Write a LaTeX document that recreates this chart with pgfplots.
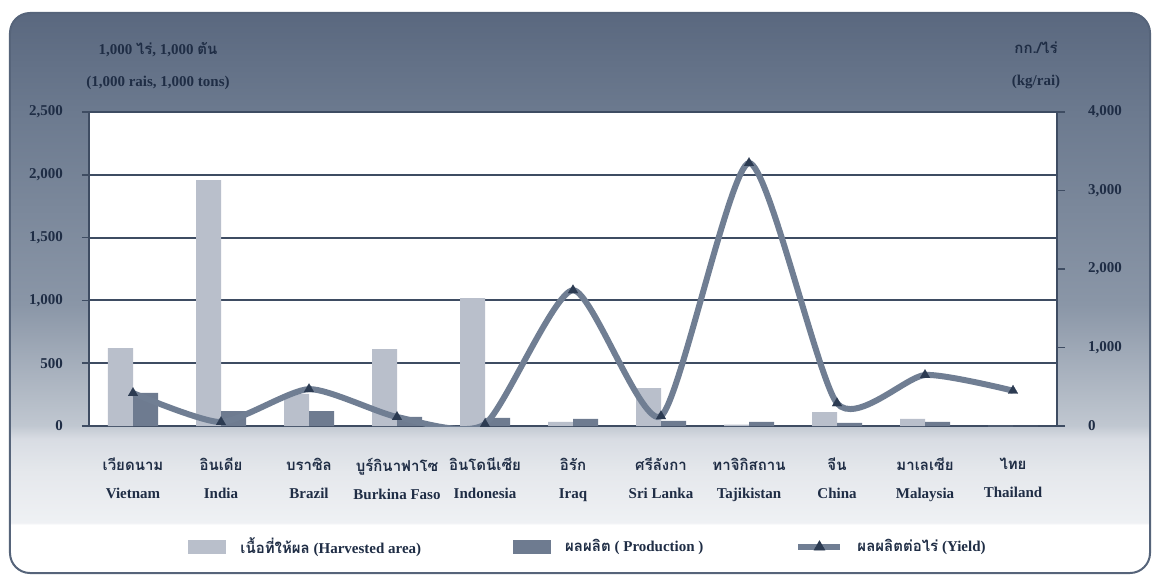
\documentclass[border=0pt]{standalone}
\usepackage{pgfplots}
\pgfplotsset{compat=1.18}
\usepackage{fontspec}
\setmainfont{Liberation Serif}
\newfontfamily\thaifont[Script=Thai]{Loma}
\definecolor{navy}{HTML}{1F2D45}
\definecolor{harv}{HTML}{B9BFCB}
\definecolor{prod}{HTML}{6E7B90}
\definecolor{yld}{HTML}{707E93}
\definecolor{mk}{HTML}{2C3B52}
\definecolor{gridc}{HTML}{3E4C62}
\definecolor{bgA}{HTML}{EFF1F4}
\definecolor{bgB}{HTML}{E5E8EC}
\definecolor{bgC}{HTML}{D8DCE3}
\definecolor{bgD}{HTML}{C0C7D0}
\definecolor{bgE}{HTML}{8A96A7}
\definecolor{bgF}{HTML}{6C7A8F}
\definecolor{bgG}{HTML}{5A687F}
\definecolor{frameC}{HTML}{56647A}
\pgfdeclareverticalshading{bgshade}{100bp}{%
 color(0bp)=(white);
 color(25bp)=(white);
 color(29.3bp)=(white);
 color(29.5bp)=(bgA);
 color(34bp)=(bgB);
 color(37bp)=(bgC);
 color(38.2bp)=(bgD);
 color(49bp)=(bgE);
 color(66bp)=(bgF);
 color(75bp)=(bgG);
 color(100bp)=(bgG)}
\newcommand\tl[2]{{\thaifont #1}\\[5pt]#2}
\pgfplotstableread{
x harv prod yield
0 621 263 420
1 1958 119 50
2 255 119 470
3 613 72 115
4 1019 64 25
5 32 56 1730
6 302 40 125
7 12 32 3350
8 111 24 290
9 56 32 650
10 1 0.5 450
}\datatab
\begin{document}
\begin{tikzpicture}
\begin{scope}[x=0.5pt,y=-0.5pt,shift={(-44.5pt,213pt)}]
\useasboundingbox (0,0) rectangle (1154,574);
\shade[shading=bgshade, rounded corners=10pt] (10,13) rectangle (1150,573);
\draw[frameC, line width=1pt, rounded corners=10pt] (10,13) rectangle (1150,573);
\begin{scope}[font=\fontsize{7.5pt}{9pt}\selectfont\bfseries, text=navy]
\node at (158,50) {1,000 {\thaifont ไร่}, 1,000 {\thaifont ตัน}};
\node at (158,83) {(1,000 rais, 1,000 tons)};
\node at (1036,48) {\thaifont กก./ไร่};
\node at (1036,82) {(kg/rai)};
\end{scope}
\end{scope}
\pgfplotsset{every tick label/.append style={font=\fontsize{7.5pt}{9pt}\selectfont\bfseries, text=navy},
  /pgf/number format/assume math mode=true, /pgf/number format/1000 sep={,}}
\begin{axis}[at={(0,0)}, anchor=south west, scale only axis, width=484pt, height=157pt,
  xmin=-0.5, xmax=10.5, ymin=0, ymax=2500,
  axis background/.style={fill=white},
  ybar=0pt, bar width=12.5pt,
  axis line style={draw=gridc, line width=1pt},
  ytick={0,500,...,2500}, ymajorgrids, grid style={gridc, line width=1pt},
  ytick pos=left, tick align=outside, major tick length=3.5pt,
  ytick style={gridc, line width=0.8pt},
  yticklabel style={anchor=east, xshift=-6pt},
  xtick={0,...,10}, xtick style={draw=none},
  xticklabel style={align=center, yshift=-9pt},
  xticklabels={\tl{เวียดนาม}{Vietnam},\tl{อินเดีย}{India},\tl{บราซิล}{Brazil},\tl{บูร์กินาฟาโซ}{Burkina Faso},\tl{อินโดนีเซีย}{Indonesia},\tl{อิรัก}{Iraq},\tl{ศรีลังกา}{Sri Lanka},\tl{ทาจิกิสถาน}{Tajikistan},\tl{จีน}{China},\tl{มาเลเซีย}{Malaysia},\tl{ไทย}{Thailand}},
  legend columns=3,
  legend style={at={(axis description cs:0.1023,-0.3854)}, anchor=west, draw=none, fill=none,
    inner xsep=0pt, font=\fontsize{7.5pt}{9pt}\selectfont\bfseries, text=navy,
    /tikz/every even column/.append style={column sep=44pt},
    /tikz/every odd column/.append style={column sep=5pt}},
  legend cell align=left,
]
\addplot[fill=harv, draw=none, legend image code/.code={\fill[harv] (0pt,-3.5pt) rectangle (19pt,3.5pt);}] table[x=x,y=harv]{\datatab};
\addlegendentry{{\thaifont เนื้อที่ให้ผล} (Harvested area)}
\addplot[fill=prod, draw=none, legend image code/.code={\fill[prod] (0pt,-3.5pt) rectangle (19pt,3.5pt);}] table[x=x,y=prod]{\datatab};
\addlegendentry{{\thaifont ผลผลิต} ( Production )}
\addlegendimage{legend image code/.code={\draw[yld, line width=3pt] (0pt,0pt) -- (21pt,0pt); \fill[mk] (10.5pt,0pt) +(90:3pt) -- +(210:3pt) -- +(330:3pt) -- cycle;}}
\addlegendentry{{\thaifont ผลผลิตต่อไร่} (Yield)}
\end{axis}
\begin{axis}[at={(0,0)}, anchor=south west, scale only axis, width=484pt, height=157pt,
  xmin=-0.5, xmax=10.5, ymin=0, ymax=4000,
  axis x line=none, axis y line*=right,
  axis line style={draw=gridc, line width=1pt},
  ytick={0,1000,...,4000}, tick align=outside, major tick length=4pt,
  ytick style={gridc, line width=0.8pt},
  yticklabel style={anchor=west, xshift=8pt},
]
\addplot[yld, line width=3pt, smooth, tension=0.38, mark=triangle*, mark size=2.8pt,
  mark options={solid, draw=mk, fill=mk, line width=0.1pt}] table[x=x,y=yield]{\datatab};
\end{axis}
\end{tikzpicture}
\end{document}
